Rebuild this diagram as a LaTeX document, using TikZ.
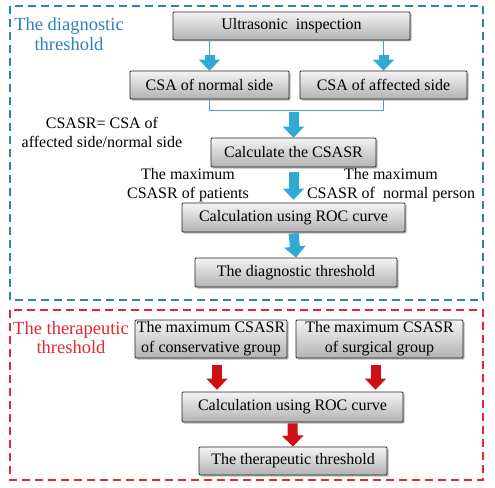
\documentclass[tikz,border=0pt]{standalone}
\usepackage{fontspec}
\setmainfont{Liberation Serif}
\usetikzlibrary{arrows.meta,shadows}
\definecolor{boxtop}{RGB}{244,244,244}
\definecolor{boxbot}{RGB}{178,178,178}
\definecolor{dblue}{RGB}{46,128,190}
\definecolor{dred}{RGB}{226,40,48}
\definecolor{arrblue}{RGB}{48,170,212}
\definecolor{arrbluel}{RGB}{110,208,238}
\definecolor{arrred}{RGB}{206,16,18}
\definecolor{arrredl}{RGB}{240,60,60}
\definecolor{lineblue}{RGB}{90,150,205}
\tikzset{
  stepbox/.style={rectangle, draw=black!85, line width=0.8pt, rounded corners=1pt,
    top color=boxtop, bottom color=boxbot, align=center, inner sep=1pt,
    drop shadow={shadow xshift=1.5pt, shadow yshift=-1.5pt, fill=black!45, opacity=0.6},
    font=\fontsize{16}{20}\selectfont},
  plaintext/.style={align=center, inner sep=0pt, font=\fontsize{16}{19}\selectfont},
  titletext/.style={align=center, inner sep=0pt, font=\fontsize{18.5}{19.5}\selectfont},
  fatblue/.style={line width=10pt, arrblue, -{Triangle[width=21pt,length=11pt]}},
  fatred/.style={line width=10pt, arrred, -{Triangle[width=21pt,length=11pt]}},
  thinblue/.style={line width=0.8pt, lineblue},
  frameblue/.style={dblue, line width=1.5pt, dash pattern=on 8pt off 5pt},
  framered/.style={dred, line width=1.5pt, dash pattern=on 8pt off 5pt},
}
\begin{document}
\begin{tikzpicture}[x=1pt,y=-1pt]
\useasboundingbox (0,0) rectangle (495,487);
% frames
\draw[frameblue] (10,6) rectangle (483,300);
\draw[framered] (10,310) rectangle (483,480);
% titles
\node[titletext, text=dblue] (t1) at (69,34) {The diagnostic\\threshold};
\node[titletext, text=dred] (t2) at (71,337.5) {The therapeutic\\threshold};
% diagnostic part
\node[stepbox, minimum width=237pt, minimum height=28pt] (us) at (291.5,26) {Ultrasonic\ \ inspection};
\node[stepbox, minimum width=159pt, minimum height=28pt] (n1) at (209.5,85) {CSA of normal side};
\node[stepbox, minimum width=167pt, minimum height=28pt] (n2) at (383.5,85) {CSA of affected side};
\node[stepbox, minimum width=165pt, minimum height=29pt] (calc) at (293.5,152.5) {Calculate the CSASR};
\node[stepbox, minimum width=223pt, minimum height=29pt] (roc1) at (293.5,217.5) {Calculation using ROC curve};
\node[stepbox, minimum width=202pt, minimum height=29pt] (diag) at (296,272.5) {The diagnostic threshold};
\node[plaintext] (form) at (102,132.5) {CSASR= CSA of\\affected side/normal side};
\node[plaintext] (pat) at (188,185) {The maximum\\CSASR of patients};
\node[plaintext] (nor) at (391,185) {The maximum\\CSASR of\ \ normal person};
% connectors diagnostic
\draw[thinblue] (n1.north |- us.south) -- (n1.north);
\draw[thinblue] (n2.north |- us.south) -- (n2.north);
\draw[fatblue, shorten <=15pt] (n1.north |- us.south) -- (n1.north);
\draw[fatblue, shorten <=15pt] (n2.north |- us.south) -- (n2.north);
\coordinate (br) at (calc.north |- 0,110);
\draw[thinblue] (n1.south) -- (n1.south |- br) -- (n2.south |- br) -- (n2.south);
\draw[fatblue, shorten <=2pt] (br) -- (calc.north);
\draw[fatblue, shorten <=5pt, shorten >=3pt] (calc.south) -- (roc1.north);
\draw[fatblue, shorten <=1pt] (roc1.south) -- (diag.north);
% therapeutic part
\node[stepbox, minimum width=152pt, minimum height=38pt] (cons) at (211,339) {The maximum CSASR\\of conservative group};
\node[stepbox, minimum width=167pt, minimum height=38pt] (surg) at (379.5,339) {The maximum CSASR\\of surgical group};
\node[stepbox, minimum width=221pt, minimum height=30pt] (roc2) at (292.5,407) {Calculation using ROC curve};
\node[stepbox, minimum width=188pt, minimum height=28pt] (ther) at (293,461) {The therapeutic threshold};
\draw[fatred, shorten <=7pt, shorten >=2pt] ([xshift=6pt]cons.south) -- ([xshift=6pt]cons.south |- roc2.north);
\draw[fatred, shorten <=7pt, shorten >=2pt] ([xshift=-4pt]surg.south) -- ([xshift=-4pt]surg.south |- roc2.north);
\draw[fatred, shorten <=1pt] (roc2.south) -- (ther.north);
\end{tikzpicture}
\end{document}
